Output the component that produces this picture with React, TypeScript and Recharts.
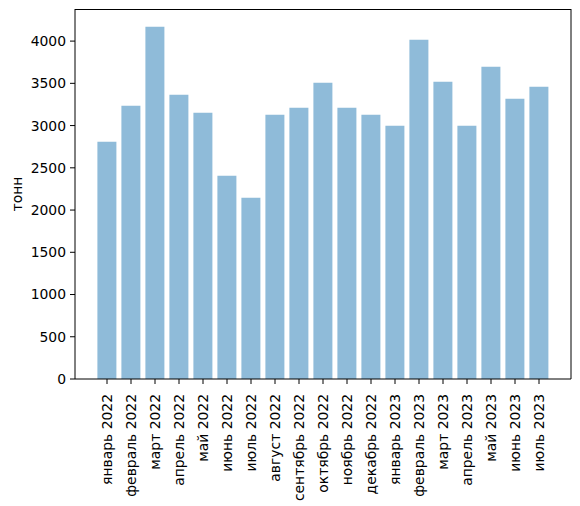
import { BarChart, Bar, XAxis, YAxis } from 'recharts';

// monthly volumes, tonnes
const months = [
  'январь 2022', 'февраль 2022', 'март 2022', 'апрель 2022', 'май 2022', 'июнь 2022',
  'июль 2022', 'август 2022', 'сентябрь 2022', 'октябрь 2022', 'ноябрь 2022', 'декабрь 2022',
  'январь 2023', 'февраль 2023', 'март 2023', 'апрель 2023', 'май 2023', 'июнь 2023', 'июль 2023',
];
const tonnes = [
  2810, 3235, 4170, 3365, 3152, 2405, 2145, 3128, 3211, 3507, 3211, 3128,
  2998, 4017, 3519, 2998, 3697, 3318, 3460,
];
const yTicks = [0, 500, 1000, 1500, 2000, 2500, 3000, 3500, 4000];
const yMax = 4380;

const data = months.map((m, i) => ({ month: m, value: tonnes[i] }));

const FONT = '"DejaVu Sans", sans-serif';
const M = { top: 9, right: 8, bottom: 0, left: 15 };
const Y_W = 60;

function MonthTick({ x, y, payload }: any) {
  return (
    <text
      x={x}
      y={y + 8}
      transform={`rotate(-90, ${x}, ${y + 8})`}
      textAnchor="end"
      dy="0.35em"
      fontSize={13.9}
      fontFamily={FONT}
      fill="#000"
    >
      {payload.value}
    </text>
  );
}

export default function App() {
  return (
    <div style={{ position: 'absolute', left: 0, top: 0, width: 580, height: 506, background: '#fff' }}>
      <BarChart width={580} height={506} data={data} margin={M} barCategoryGap="10%">
        <XAxis
          dataKey="month"
          interval={0}
          height={127}
          padding={{ left: 20, right: 20 }}
          tick={<MonthTick />}
          tickSize={5}
          axisLine={{ stroke: '#000' }}
          tickLine={{ stroke: '#000' }}
        />
        <YAxis
          width={Y_W}
          domain={[0, yMax]}
          ticks={yTicks}
          interval={0}
          tickSize={5}
          tickMargin={4}
          axisLine={{ stroke: '#000' }}
          tickLine={{ stroke: '#000' }}
          tick={{ fontSize: 13.9, fontFamily: FONT, fill: '#000' }}
          label={{
            value: 'тонн',
            angle: -90,
            position: 'insideLeft',
            offset: 2,
            style: { fontSize: 13.9, fontFamily: FONT, fill: '#000', textAnchor: 'middle' },
          }}
        />
        <YAxis
          yAxisId="right"
          orientation="right"
          width={1}
          tick={false}
          tickLine={false}
          axisLine={{ stroke: '#000' }}
        />
        <Bar dataKey="value" fill="#1f77b4" fillOpacity={0.5} isAnimationActive={false} />
      </BarChart>
      {/* top edge of the axes frame */}
      <div
        style={{
          position: 'absolute',
          left: M.left + Y_W,
          top: M.top,
          width: 580 - M.left - Y_W - M.right - 1,
          height: 0,
          borderTop: '1px solid #000',
          pointerEvents: 'none',
        }}
      />
    </div>
  );
}
